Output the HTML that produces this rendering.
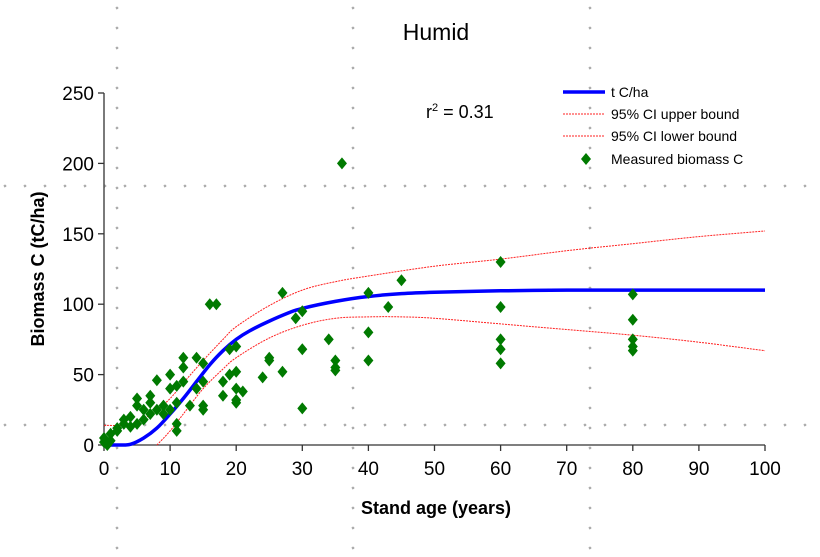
<!DOCTYPE html>
<html><head><meta charset="utf-8"><style>
body{margin:0;background:#fff;}
svg{display:block;font-family:"Liberation Sans",Arial,sans-serif;}
</style></head><body>
<svg id="chart" width="820" height="557" viewBox="0 0 820 557" xmlns="http://www.w3.org/2000/svg">
<g id="grid"></g>
<text x="436" y="40" font-size="23" text-anchor="middle" fill="#000">Humid</text>
<text x="426" y="118" font-size="18" fill="#000">r<tspan font-size="11" dy="-7">2</tspan><tspan dy="7"> = 0.31</tspan></text>
<g id="axes"></g>
<g id="series"></g>
<g id="legend">
 <line x1="563" y1="92" x2="605" y2="92" stroke="#0000ff" stroke-width="3.5"/>
 <text x="611" y="97" font-size="14">t C/ha</text>
 <line x1="563" y1="114" x2="605" y2="114" stroke="#ff2020" stroke-width="1" stroke-dasharray="2,1"/>
 <text x="611" y="119" font-size="14">95% CI upper bound</text>
 <line x1="563" y1="136" x2="605" y2="136" stroke="#ff2020" stroke-width="1" stroke-dasharray="2,1"/>
 <text x="611" y="141" font-size="14">95% CI lower bound</text>
 <path d="M586,153 L591,159 L586,165 L581,159 Z" fill="#007a00"/>
 <text x="611" y="164" font-size="14">Measured biomass C</text>
</g>
<text x="436" y="514" font-size="18" font-weight="bold" text-anchor="middle">Stand age (years)</text>
<text transform="translate(44,269) rotate(-90)" font-size="18" font-weight="bold" text-anchor="middle">Biomass C (tC/ha)</text>
</svg>
<script>
const xTicks=[0,10,20,30,40,50,60,70,80,90,100];
const yTicks=[0,50,100,150,200,250];
const measX=[0,0,1,0.5,1,2,2,3,3,4,4,5,5,5,6,6,7,7,7,8,8,9,9,10,10,10,11,11,11,11,12,12,12,13,14,14,15,15,15,15,16,17,18,18,19,19,20,20,20,20,20,21,24,25,25,27,27,29,30,30,30,34,35,35,35,36,40,40,40,43,45,60,60,60,60,60,80,80,80,80,80];
const measY=[2,5,3,0,8,10,12,15,18,13,20,15,28,33,25,18,22,30,35,25,46,28,22,25,40,50,30,15,10,42,55,62,45,28,62,40,45,58,28,25,100,100,45,35,50,68,40,32,30,70,52,38,48,60,62,108,52,90,95,68,26,75,60,55,53,200,108,80,60,98,117,130,98,75,68,58,107,89,75,70,67];
const fitX=[0,2,4,6,8,10,12,14,16,18,20,22,25,28,30,35,40,45,50,60,70,80,90,100];
const fitY=[0,0,0.5,5,12,22,33,45,57,67,75,81,88,94,97,102,105.5,107.5,108.5,109.5,110,110,110,110];
const upX=[0,3,5,8,10,12,15,18,20,25,30,35,40,50,60,70,80,90,100];
const upY=[14,14,16,25,33,44,60,75,84,99,110,116,120,127,132,138,143,148,152];
const loX=[8,10,12,15,18,20,25,30,35,40,45,50,60,70,80,90,100];
const loY=[0,10,22,40,54,62,76,85,90,91,91,90,86,82,78,73,67];
const X0=104,X1=765,Y0=445,Y1=93;
const sx=v=>X0+(v-0)/(100-0)*(X1-X0);
const sy=v=>Y0-(v-0)/(250-0)*(Y0-Y1);
const NS="http://www.w3.org/2000/svg";
function mk(tag,attrs,parent){const e=document.createElementNS(NS,tag);for(const k in attrs)e.setAttribute(k,attrs[k]);parent.appendChild(e);return e;}
const grid=document.getElementById('grid'),axes=document.getElementById('axes'),series=document.getElementById('series');
[117,353,590].forEach(x=>{for(let y=8;y<557;y+=20){mk('path',{d:`M${x},${y-1.2}L${x+1.2},${y}L${x},${y+1.2}L${x-1.2},${y}Z`,fill:'none',stroke:'#333','stroke-width':0.5},grid);}});
[186,425].forEach(y=>{for(let x=5;x<820;x+=20){mk('path',{d:`M${x},${y-1.2}L${x+1.2},${y}L${x},${y+1.2}L${x-1.2},${y}Z`,fill:'none',stroke:'#333','stroke-width':0.5},grid);}});
mk('line',{x1:X0,y1:Y1,x2:X0,y2:Y0,stroke:'#333','stroke-width':1.3},axes);
mk('line',{x1:X0,y1:Y0,x2:X1,y2:Y0,stroke:'#333','stroke-width':1.3},axes);
yTicks.forEach(v=>{
 mk('line',{x1:X0-6,y1:sy(v),x2:X0,y2:sy(v),stroke:'#333','stroke-width':1.3},axes);
 const t=mk('text',{x:X0-10,y:sy(v)+7,'font-size':19,'text-anchor':'end'},axes);t.textContent=v;
 
 
});
xTicks.forEach(v=>{
 mk('line',{x1:sx(v),y1:Y0,x2:sx(v),y2:Y0+6,stroke:'#333','stroke-width':1.3},axes);
 const t=mk('text',{x:sx(v),y:Y0+30,'font-size':19,'text-anchor':'middle'},axes);t.textContent=v;
 
 
});
function line(xs,ys,attrs,name){
 const P=xs.map((x,i)=>[sx(x),sy(ys[i])]);
 let d='M'+P[0][0].toFixed(1)+','+P[0][1].toFixed(1);
 for(let i=0;i<P.length-1;i++){
  const p0=P[i-1]||P[i],p1=P[i],p2=P[i+1],p3=P[i+2]||p2;
  const c1=[p1[0]+(p2[0]-p0[0])/6,p1[1]+(p2[1]-p0[1])/6];
  const c2=[p2[0]-(p3[0]-p1[0])/6,p2[1]-(p3[1]-p1[1])/6];
  d+=`C${c1[0].toFixed(1)},${c1[1].toFixed(1)} ${c2[0].toFixed(1)},${c2[1].toFixed(1)} ${p2[0].toFixed(1)},${p2[1].toFixed(1)}`;
 }
 const p=mk('path',Object.assign({d:d,fill:'none'},attrs),series);
 
 
}
line(upX,upY,{stroke:'#ff2020','stroke-width':1,'stroke-dasharray':'2,1'},'ci-upper-line');
line(loX,loY,{stroke:'#ff2020','stroke-width':1,'stroke-dasharray':'2,1'},'ci-lower-line');
line(fitX,fitY,{stroke:'#0000ff','stroke-width':3.5,'stroke-linejoin':'round'},'fit-line');
measX.forEach((x,i)=>{
 const cx=sx(x),cy=sy(measY[i]);
 const p=mk('path',{d:`M${cx},${cy-6}L${cx+5},${cy}L${cx},${cy+6}L${cx-5},${cy}Z`,fill:'#007a00'},series);
 
 
});
</script>
</body></html>
